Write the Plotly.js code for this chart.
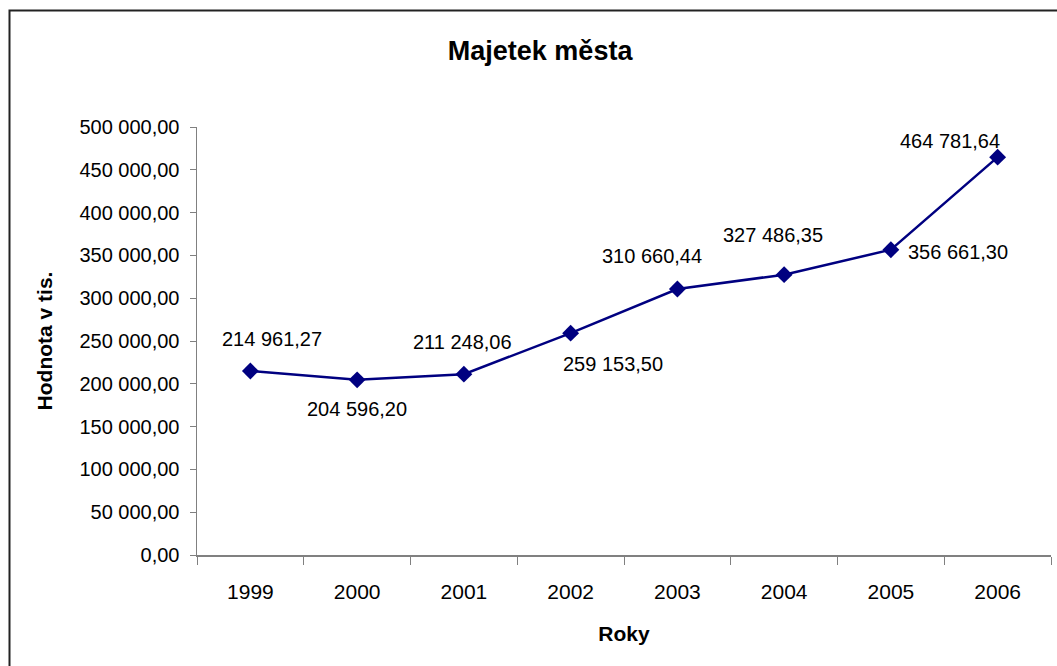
<!DOCTYPE html>
<html>
<head>
<meta charset="utf-8">
<script src="https://cdn.plot.ly/plotly-3.0.1.min.js"></script>
<style>
  html, body { margin: 0; padding: 0; background: #fff; }
  #chart { width: 1057px; height: 666px; }
</style>
</head>
<body>
<div id="chart"></div>
<script>
const years = ['1999', '2000', '2001', '2002', '2003', '2004', '2005', '2006'];
const values = [214961.27, 204596.20, 211248.06, 259153.50, 310660.44, 327486.35, 356661.30, 464781.64];
const labelShiftX = [22, 0, -1, 42, -25, -11, 67, -48];
const labelShiftY = [32, -29, 32, -31, 33, 40, -2, 16];

function czFormat(v) {
  const parts = v.toFixed(2).split('.');
  const intPart = parts[0].replace(/\B(?=(\d{3})+(?!\d))/g, ' ');
  return intPart + ',' + parts[1];
}

const FONT = 'Liberation Sans, Arial, sans-serif';

const trace = {
  type: 'scatter',
  mode: 'lines+markers',
  x: years,
  y: values,
  line: { color: '#000080', width: 2.5 },
  marker: { symbol: 'diamond', size: 13, color: '#000080' },
  hoverinfo: 'x+y'
};

// category axes place annotations by category index
const annotations = years.map((yr, i) => ({
  x: years.indexOf(yr),
  y: values[i],
  xref: 'x',
  yref: 'y',
  text: czFormat(values[i]),
  showarrow: false,
  xshift: labelShiftX[i],
  yshift: labelShiftY[i],
  font: { family: FONT, size: 20, color: '#000' }
}));

const layout = {
  width: 1057,
  height: 666,
  paper_bgcolor: '#fff',
  plot_bgcolor: '#fff',
  separators: ', ',
  showlegend: false,
  margin: { l: 197, r: 6, t: 127, b: 111 },
  title: {
    text: '<b>Majetek města</b>',
    font: { family: FONT, size: 27, color: '#000' },
    x: 0.511, xref: 'container', xanchor: 'center',
    y: 1 - 51 / 666, yref: 'container', yanchor: 'middle'
  },
  xaxis: {
    type: 'category',
    range: [-0.5, 7.5],
    showgrid: false,
    zeroline: false,
    showline: true,
    linecolor: '#808080',
    linewidth: 1.5,
    ticks: 'outside',
    tickson: 'boundaries',
    ticklen: 8,
    tickcolor: '#808080',
    tickwidth: 1,
    ticklabelstandoff: 17,
    tickfont: { family: FONT, size: 21, color: '#000' },
    title: {
      text: '<b>Roky</b>',
      font: { family: FONT, size: 21, color: '#000' },
      standoff: 24
    },
    automargin: false,
    fixedrange: true
  },
  yaxis: {
    range: [0, 500000],
    tick0: 0,
    dtick: 50000,
    tickformat: ',.2f',
    showgrid: false,
    zeroline: false,
    showline: true,
    linecolor: '#808080',
    linewidth: 1.5,
    ticks: 'outside',
    ticklen: 6,
    tickcolor: '#808080',
    tickwidth: 1,
    ticklabelstandoff: 6,
    tickfont: { family: FONT, size: 20, color: '#000' },
    title: {
      text: '<b>Hodnota v tis.</b>',
      font: { family: FONT, size: 21, color: '#000' },
      standoff: 21
    },
    automargin: false,
    fixedrange: true
  },
  annotations: annotations,
  shapes: [
    {
      type: 'rect',
      xref: 'paper', yref: 'paper',
      x0: (9.5 - 197) / 854, x1: 1.2,
      y0: -0.5, y1: (555 - 10.5) / 428,
      line: { color: '#222', width: 2 },
      fillcolor: 'rgba(0,0,0,0)',
      layer: 'above'
    }
  ]
};

Plotly.newPlot('chart', [trace], layout, { displayModeBar: false, staticPlot: true });
</script>
</body>
</html>
